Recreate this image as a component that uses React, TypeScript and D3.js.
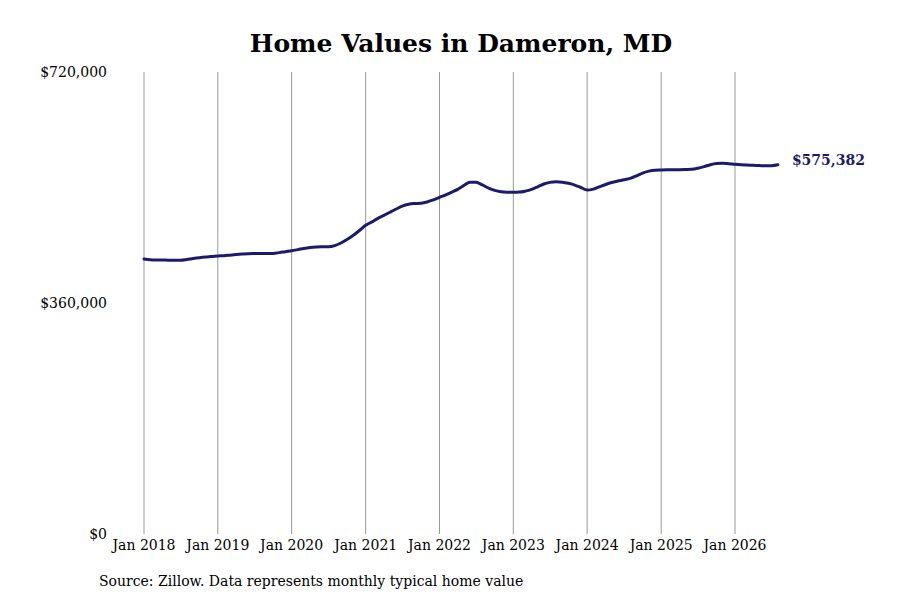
import React, { useEffect, useRef } from 'react';
import * as d3 from 'd3';

// Monthly typical home value, Jan 2018 .. Aug 2026
const startMonth = new Date(2018, 0, 1);
const homeValues: number[] = [
  // 2018
  428600, 427400, 427000, 426900, 426700, 426500, 426600, 427800, 429300, 430600, 431700, 432400,
  // 2019
  433300, 433800, 434600, 435500, 436200, 436800, 437000, 437100, 437200, 437300, 438500, 440000,
  // 2020
  441500, 443200, 445000, 446500, 447300, 447600, 447700, 449500, 453500, 459000, 465500, 473000,
  // 2021
  481000, 486500, 491500, 496500, 501500, 506500, 511000, 513800, 515000, 515500, 517500, 520800,
  // 2022
  524700, 528500, 532500, 537000, 543000, 548300, 548000, 544000, 539000, 535500, 533300, 532600,
  // 2023
  532500, 532800, 534300, 537000, 541000, 545500, 548000, 549000, 548300, 546500, 543800, 540000,
  // 2024
  536000, 537500, 541000, 544700, 547800, 550100, 552000, 554300, 558000, 562500, 565500, 567000,
  // 2025
  567300, 567500, 567600, 567700, 568000, 568400, 570000, 572500, 575500, 577300, 577700, 577000,
  // 2026
  576100, 575400, 575000, 574600, 574200, 573800, 574000, 575382,
];
const yTicks = [0, 360000, 720000];
const xTickYears = [2018, 2019, 2020, 2021, 2022, 2023, 2024, 2025, 2026];

const title = 'Home Values in Dameron, MD';
const source = 'Source: Zillow. Data represents monthly typical home value';

const App: React.FC = () => {
  const svgRef = useRef<SVGSVGElement | null>(null);

  useEffect(() => {
    if (!svgRef.current) return;
    document.body.style.margin = '0';

    const width = 900;
    const height = 600;
    const font = '"DejaVu Serif", serif';

    const svg = d3.select(svgRef.current).attr('width', width).attr('height', height);
    svg.selectAll('*').remove();

    const points = homeValues.map((v, i) => ({ date: d3.timeMonth.offset(startMonth, i), value: v }));

    const x = d3.scaleTime()
      .domain([new Date(2018, 0, 1), new Date(2026, 0, 1)])
      .range([144, 735]);
    const y = d3.scaleLinear().domain([0, 720000]).range([534, 72]);

    svg.append('rect').attr('width', width).attr('height', height).attr('fill', '#fff');

    // Title
    svg.append('text')
      .attr('x', 461)
      .attr('y', 52)
      .attr('text-anchor', 'middle')
      .attr('font-family', font)
      .attr('font-weight', 'bold')
      .attr('font-size', 25)
      .text(title);

    // Vertical gridlines + x labels
    const xTicks = xTickYears.map(yr => new Date(yr, 0, 1));
    svg.selectAll('line.grid')
      .data(xTicks)
      .enter()
      .append('line')
      .attr('class', 'grid')
      .attr('x1', d => x(d))
      .attr('x2', d => x(d))
      .attr('y1', y(720000))
      .attr('y2', y(0))
      .attr('stroke', '#999')
      .attr('stroke-width', 1);

    svg.selectAll('text.xlab')
      .data(xTicks)
      .enter()
      .append('text')
      .attr('class', 'xlab')
      .attr('x', d => x(d))
      .attr('y', 550)
      .attr('text-anchor', 'middle')
      .attr('font-family', font)
      .attr('font-size', 14)
      .text(d => d3.timeFormat('%b %Y')(d));

    // Y labels
    svg.selectAll('text.ylab')
      .data(yTicks)
      .enter()
      .append('text')
      .attr('class', 'ylab')
      .attr('x', 107)
      .attr('y', d => y(d))
      .attr('dy', '0.35em')
      .attr('text-anchor', 'end')
      .attr('font-family', font)
      .attr('font-size', 14)
      .text(d => d3.format('$,')(d));

    // Line
    const line = d3.line<{ date: Date; value: number }>()
      .x(d => x(d.date))
      .y(d => y(d.value))
      .curve(d3.curveMonotoneX);

    svg.append('path')
      .datum(points)
      .attr('d', line)
      .attr('fill', 'none')
      .attr('stroke', '#1a1a6e')
      .attr('stroke-width', 3)
      .attr('stroke-linejoin', 'round')
      .attr('stroke-linecap', 'round');

    // End label
    const last = points[points.length - 1];
    svg.append('text')
      .attr('x', x(last.date) + 14)
      .attr('y', y(last.value) - 5)
      .attr('dy', '0.35em')
      .attr('font-family', font)
      .attr('font-weight', 'bold')
      .attr('font-size', 14)
      .attr('fill', '#1a1a6e')
      .text(d3.format('$,')(last.value));

    // Source
    svg.append('text')
      .attr('x', 99)
      .attr('y', 586)
      .attr('font-family', font)
      .attr('font-size', 14)
      .text(source);
  }, []);

  return <svg ref={svgRef} style={{ display: 'block' }}></svg>;
};

export default App;
